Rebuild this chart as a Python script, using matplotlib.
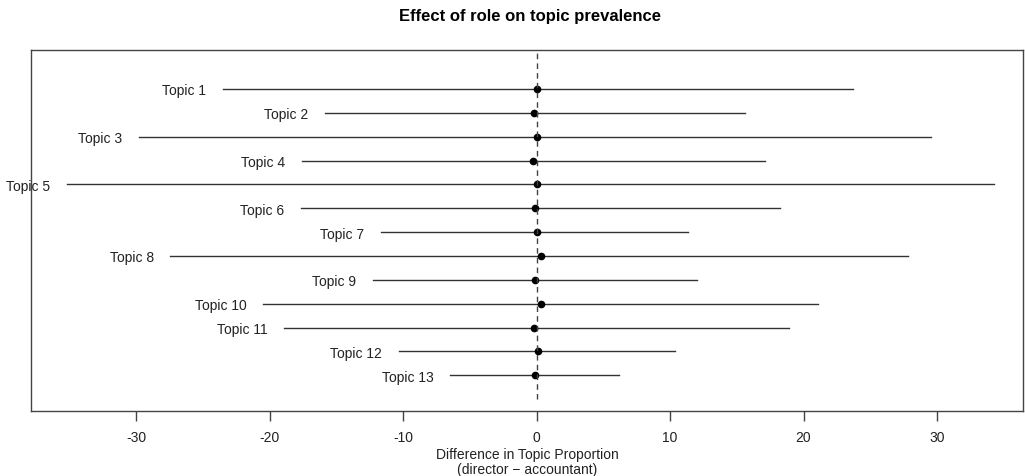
import matplotlib.pyplot as plt

topics = ["Topic %d" % i for i in range(1, 14)]
est = [0.05, -0.2, 0.0, -0.27, 0.0, -0.15, 0.0, 0.3, -0.15, 0.35, -0.2, 0.13, -0.15]
lower = [-23.5, -15.85, -29.8, -17.6, -35.2, -17.7, -11.7, -27.45, -12.3, -20.5, -18.95, -10.35, -6.5]
upper = [23.7, 15.6, 29.55, 17.15, 34.3, 18.2, 11.35, 27.85, 12.0, 21.05, 18.9, 10.4, 6.2]

plt.rcParams["font.family"] = ["Liberation Sans", "DejaVu Sans"]
plt.rcParams["axes.unicode_minus"] = False

fig = plt.figure(figsize=(10.25, 4.77), dpi=100)
ax = fig.add_axes([31 / 1025, 65.5 / 477, 992 / 1025, 360.5 / 477])

n = len(topics)
for i in range(n):
    y = n + 1 - (i + 1)
    ax.plot([lower[i], upper[i]], [y, y], color="#333333", lw=1)
    ax.plot(est[i], y, "o", color="black", ms=4.5)
    ax.annotate(topics[i], (lower[i], y), xytext=(-12, -1), textcoords="offset points",
                ha="right", va="center", fontsize=10, color="#222222",
                annotation_clip=False)

ax.plot([0, 0], [0, n + 2], ls=(0, (4, 3)), color="#444444", lw=1)

ax.set_xlim(-37.9, 36.45)
ax.set_ylim(-0.48, n + 1.64)
ax.set_yticks([])
ax.set_xticks([-30, -20, -10, 0, 10, 20, 30])
ax.tick_params(axis="x", length=7, width=1, color="#444444", labelsize=10,
               labelcolor="#222222", pad=7)
for s in ax.spines.values():
    s.set_color("#444444")
    s.set_linewidth(1)

ax.set_xlabel("Difference in Topic Proportion\n(director \u2212 accountant)",
              fontsize=10, color="#222222", labelpad=2, linespacing=1.15)
fig.suptitle("Effect of role on topic prevalence", fontsize=12, fontweight="bold",
             y=1 - 17 / 477, va="center", x=530 / 1025)

plt.savefig("out.png", dpi=100)
